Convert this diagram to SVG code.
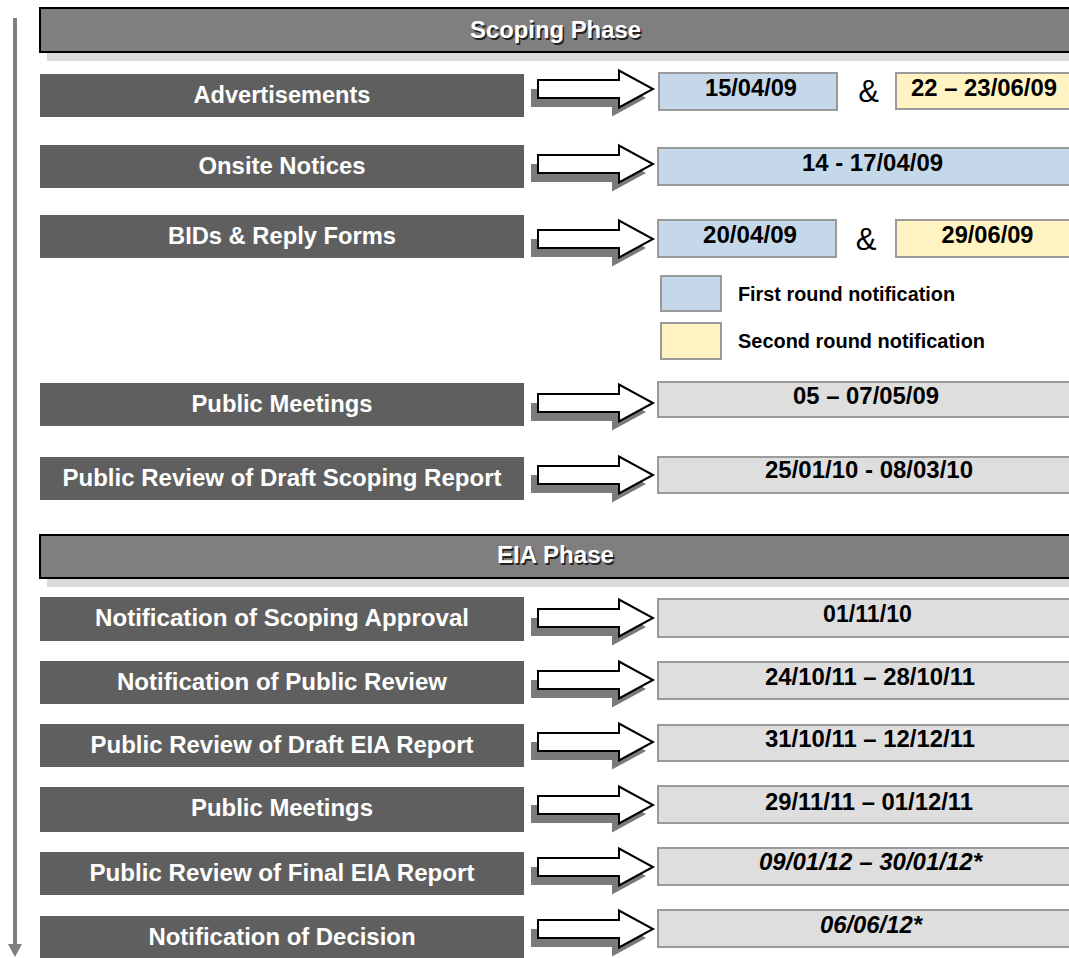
<svg xmlns="http://www.w3.org/2000/svg" width="1069" height="958" viewBox="0 0 1069 958">
<style>
.hdr{fill:#7f7f7f;stroke:#000;stroke-width:2}
.hdrsh{fill:#dadada}
.ht{font-family:"Liberation Sans",Arial,sans-serif;font-weight:bold;font-size:23.5px;fill:#fff;text-anchor:middle}
.hts{font-family:"Liberation Sans",Arial,sans-serif;font-weight:bold;font-size:23.5px;fill:#222;text-anchor:middle}
.bar{fill:#5f5f5f}
.bt{font-family:"Liberation Sans",Arial,sans-serif;font-weight:bold;font-size:23.5px;fill:#fff;text-anchor:middle}
.blue{fill:#c5d8ea;stroke:#9a9a9a;stroke-width:2}
.yel{fill:#fff3c2;stroke:#9a9a9a;stroke-width:2}
.grey{fill:#dedede;stroke:#9a9a9a;stroke-width:2}
.dt{font-family:"Liberation Sans",Arial,sans-serif;font-weight:bold;font-size:23px;fill:#000;text-anchor:middle}
.it{font-style:italic}
.amp{font-family:"Liberation Sans",Arial,sans-serif;font-size:31px;fill:#000;text-anchor:middle}
.lt{font-family:"Liberation Sans",Arial,sans-serif;font-weight:bold;font-size:20px;fill:#000}
.arr{fill:#fff;stroke:#000;stroke-width:2;stroke-linejoin:miter}
.ash{fill:#7a7a7a}
.vl{fill:#808080}
</style>
<defs>
<path id="ba" d="M538,-9 L619,-9 L619,-18.5 L653,0 L619,18.5 L619,9 L538,9 Z"/>
</defs>

<g id="timeline-arrow">
<rect class="vl" x="13" y="18" width="4" height="928"/>
<polygon class="vl" points="8,944 22,944 15,957"/>
</g>

<g id="scoping-phase">
<rect class="hdrsh" x="47" y="52" width="1030" height="9"/>
<rect class="hdr" x="40" y="8" width="1040" height="44"/>
<text class="hts" x="557" y="39.5" textLength="171" lengthAdjust="spacingAndGlyphs">Scoping Phase</text>
<text class="ht" x="555.5" y="38" textLength="171" lengthAdjust="spacingAndGlyphs">Scoping Phase</text>
</g>

<g id="eia-phase">
<rect class="hdrsh" x="47" y="578" width="1030" height="9"/>
<rect class="hdr" x="40" y="535" width="1040" height="43"/>
<text class="hts" x="557" y="564.5" textLength="117" lengthAdjust="spacingAndGlyphs">EIA Phase</text>
<text class="ht" x="555.5" y="563" textLength="117" lengthAdjust="spacingAndGlyphs">EIA Phase</text>
</g>

<g id="advertisements">
<rect class="bar" x="40" y="74" width="484" height="43"/>
<text class="bt" x="282" y="103" textLength="177" lengthAdjust="spacingAndGlyphs">Advertisements</text>
</g>
<g id="onsite-notices">
<rect class="bar" x="40" y="145" width="484" height="43"/>
<text class="bt" x="282" y="174" textLength="167" lengthAdjust="spacingAndGlyphs">Onsite Notices</text>
</g>
<g id="bids-reply-forms">
<rect class="bar" x="40" y="215" width="484" height="43"/>
<text class="bt" x="282" y="244" textLength="228" lengthAdjust="spacingAndGlyphs">BIDs &amp; Reply Forms</text>
</g>
<g id="public-meetings-1">
<rect class="bar" x="40" y="383" width="484" height="43"/>
<text class="bt" x="282" y="412" textLength="181" lengthAdjust="spacingAndGlyphs">Public Meetings</text>
</g>
<g id="review-draft-scoping">
<rect class="bar" x="40" y="457" width="484" height="43"/>
<text class="bt" x="282" y="486" textLength="439" lengthAdjust="spacingAndGlyphs">Public Review of Draft Scoping Report</text>
</g>
<g id="notif-scoping-approval">
<rect class="bar" x="40" y="597" width="484" height="44"/>
<text class="bt" x="282" y="626" textLength="374" lengthAdjust="spacingAndGlyphs">Notification of Scoping Approval</text>
</g>
<g id="notif-public-review">
<rect class="bar" x="40" y="661" width="484" height="43"/>
<text class="bt" x="282" y="690" textLength="330" lengthAdjust="spacingAndGlyphs">Notification of Public Review</text>
</g>
<g id="review-draft-eia">
<rect class="bar" x="40" y="724" width="484" height="43"/>
<text class="bt" x="282" y="753" textLength="383" lengthAdjust="spacingAndGlyphs">Public Review of Draft EIA Report</text>
</g>
<g id="public-meetings-2">
<rect class="bar" x="40" y="787" width="484" height="45"/>
<text class="bt" x="282" y="816" textLength="182" lengthAdjust="spacingAndGlyphs">Public Meetings</text>
</g>
<g id="review-final-eia">
<rect class="bar" x="40" y="852" width="484" height="43"/>
<text class="bt" x="282" y="881" textLength="385" lengthAdjust="spacingAndGlyphs">Public Review of Final EIA Report</text>
</g>
<g id="notif-decision">
<rect class="bar" x="40" y="916" width="484" height="43"/>
<text class="bt" x="282" y="945" textLength="267" lengthAdjust="spacingAndGlyphs">Notification of Decision</text>
</g>

<g id="connectors">
<g transform="translate(0,89)"><use href="#ba" class="ash" transform="translate(-7,9)"/><use href="#ba" class="arr"/></g>
<g transform="translate(0,164)"><use href="#ba" class="ash" transform="translate(-7,9)"/><use href="#ba" class="arr"/></g>
<g transform="translate(0,239)"><use href="#ba" class="ash" transform="translate(-7,9)"/><use href="#ba" class="arr"/></g>
<g transform="translate(0,403)"><use href="#ba" class="ash" transform="translate(-7,9)"/><use href="#ba" class="arr"/></g>
<g transform="translate(0,475)"><use href="#ba" class="ash" transform="translate(-7,9)"/><use href="#ba" class="arr"/></g>
<g transform="translate(0,618)"><use href="#ba" class="ash" transform="translate(-7,9)"/><use href="#ba" class="arr"/></g>
<g transform="translate(0,680)"><use href="#ba" class="ash" transform="translate(-7,9)"/><use href="#ba" class="arr"/></g>
<g transform="translate(0,742)"><use href="#ba" class="ash" transform="translate(-7,9)"/><use href="#ba" class="arr"/></g>
<g transform="translate(0,805)"><use href="#ba" class="ash" transform="translate(-7,9)"/><use href="#ba" class="arr"/></g>
<g transform="translate(0,867)"><use href="#ba" class="ash" transform="translate(-7,9)"/><use href="#ba" class="arr"/></g>
<g transform="translate(0,929)"><use href="#ba" class="ash" transform="translate(-7,9)"/><use href="#ba" class="arr"/></g>
</g>

<g id="date-advertisements">
<rect class="blue" x="659" y="73" width="178" height="37"/>
<text class="dt" x="751" y="96" textLength="92" lengthAdjust="spacingAndGlyphs">15/04/09</text>
<text class="amp" x="868.5" y="102">&amp;</text>
<rect class="yel" x="896" y="73" width="185" height="36"/>
<text class="dt" x="984" y="96" textLength="146" lengthAdjust="spacingAndGlyphs">22 – 23/06/09</text>
</g>
<g id="date-onsite">
<rect class="blue" x="658" y="148" width="425" height="37"/>
<text class="dt" x="872.5" y="171" textLength="141" lengthAdjust="spacingAndGlyphs">14 - 17/04/09</text>
</g>
<g id="date-bids">
<rect class="blue" x="658" y="220" width="178" height="37"/>
<text class="dt" x="750" y="243" textLength="94" lengthAdjust="spacingAndGlyphs">20/04/09</text>
<text class="amp" x="866" y="250">&amp;</text>
<rect class="yel" x="896" y="220" width="185" height="37"/>
<text class="dt" x="987.5" y="243" textLength="92" lengthAdjust="spacingAndGlyphs">29/06/09</text>
</g>
<g id="legend">
<rect class="blue" x="661" y="276" width="60" height="35"/>
<text class="lt" x="738" y="301" textLength="217" lengthAdjust="spacingAndGlyphs">First round notification</text>
<rect class="yel" x="661" y="323" width="60" height="36"/>
<text class="lt" x="738" y="348" textLength="247" lengthAdjust="spacingAndGlyphs">Second round notification</text>
</g>
<g id="date-public-meetings-1">
<rect class="grey" x="658" y="382" width="425" height="35"/>
<text class="dt" x="866" y="404" textLength="146" lengthAdjust="spacingAndGlyphs">05 – 07/05/09</text>
</g>
<g id="date-draft-scoping">
<rect class="grey" x="658" y="457" width="425" height="36"/>
<text class="dt" x="869" y="478" textLength="208" lengthAdjust="spacingAndGlyphs">25/01/10 - 08/03/10</text>
</g>
<g id="date-scoping-approval">
<rect class="grey" x="658" y="599" width="425" height="38"/>
<text class="dt" x="867.5" y="622" textLength="89" lengthAdjust="spacingAndGlyphs">01/11/10</text>
</g>
<g id="date-notif-public-review">
<rect class="grey" x="658" y="662" width="425" height="37"/>
<text class="dt" x="870" y="685" textLength="210" lengthAdjust="spacingAndGlyphs">24/10/11 – 28/10/11</text>
</g>
<g id="date-draft-eia">
<rect class="grey" x="658" y="725" width="425" height="36"/>
<text class="dt" x="870" y="747" textLength="210" lengthAdjust="spacingAndGlyphs">31/10/11 – 12/12/11</text>
</g>
<g id="date-public-meetings-2">
<rect class="grey" x="658" y="786" width="425" height="37"/>
<text class="dt" x="869" y="810" textLength="208" lengthAdjust="spacingAndGlyphs">29/11/11 – 01/12/11</text>
</g>
<g id="date-final-eia">
<rect class="grey" x="658" y="848" width="425" height="37"/>
<text class="dt it" x="870.5" y="870" textLength="223" lengthAdjust="spacingAndGlyphs">09/01/12 – 30/01/12*</text>
</g>
<g id="date-decision">
<rect class="grey" x="658" y="910" width="425" height="37"/>
<text class="dt it" x="871" y="933" textLength="102" lengthAdjust="spacingAndGlyphs">06/06/12*</text>
</g>
</svg>
